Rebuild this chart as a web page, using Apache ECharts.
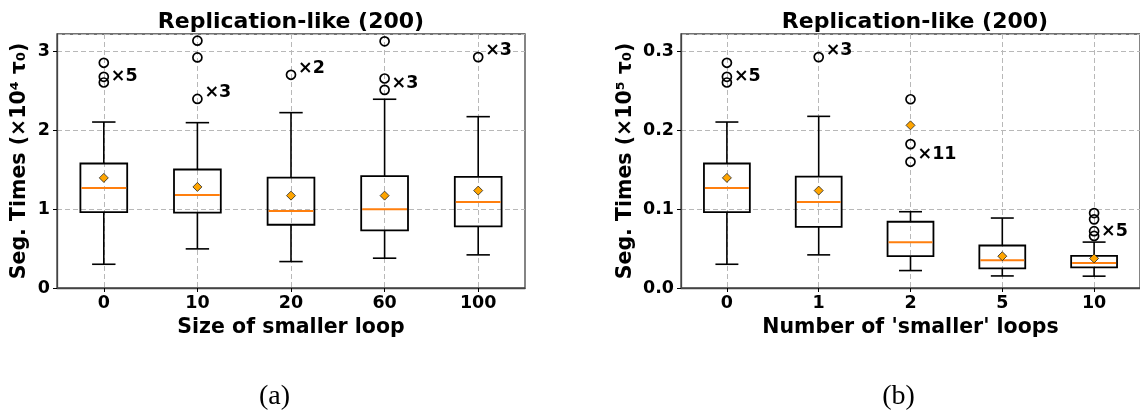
<!DOCTYPE html>
<html><head><meta charset="utf-8">
<script src="https://cdn.jsdelivr.net/npm/echarts@6/dist/echarts.min.js"></script>
<style>html,body{margin:0;padding:0;background:#fff}#c{width:1140px;height:411px}</style>
</head><body><div id="c"></div>
<script>
// ---------- data ----------
const titleText = 'Replication-like (200)';
const categoriesA = ['0', '10', '20', '60', '100'];
const categoriesB = ['0', '1', '2', '5', '10'];
const xNameA = 'Size of smaller loop';
const xNameB = "Number of 'smaller' loops";
const yNameA = 'Seg. Times (×10⁴ τ₀)';
const yNameB = 'Seg. Times (×10⁵ τ₀)';
const captionA = '(a)';
const captionB = '(b)';
// [lower whisker, Q1, median, Q3, upper whisker]
const boxA = [
  [0.301, 0.963, 1.269, 1.578, 2.104],
  [0.496, 0.955, 1.179, 1.502, 2.096],
  [0.335, 0.802, 0.976, 1.400, 2.223],
  [0.378, 0.730, 0.997, 1.417, 2.393],
  [0.420, 0.781, 1.090, 1.409, 2.172]
];
const meanA = [1.396, 1.281, 1.171, 1.171, 1.235];
const outliersA = [[0, 2.855], [0, 2.677], [0, 2.605], [1, 3.135], [1, 2.923], [1, 2.397],
  [2, 2.703], [3, 3.127], [3, 2.656], [3, 2.512], [4, 2.927]];
const countsA = [[0, 2.68, '×5'], [1, 2.478, '×3'], [2, 2.787, '×2'], [3, 2.597, '×3'], [4, 3.012, '×3']];
const boxB = [
  [0.0301, 0.0963, 0.1269, 0.1578, 0.2104],
  [0.0420, 0.0776, 0.1090, 0.1413, 0.2176],
  [0.0221, 0.0403, 0.0581, 0.0840, 0.0967],
  [0.0153, 0.0250, 0.0352, 0.0539, 0.0887],
  [0.0150, 0.0262, 0.0316, 0.0407, 0.0582]
];
const meanB = [0.1396, 0.1235, 0.2062, 0.0403, 0.0375];
const outliersB = [[0, 0.2855], [0, 0.2677], [0, 0.2605], [1, 0.2927], [2, 0.2393], [2, 0.1824], [2, 0.1600],
  [4, 0.095], [4, 0.087], [4, 0.072], [4, 0.066]];
const countsB = [[0, 0.268, '×5'], [1, 0.301, '×3'], [2, 0.169, '×11'], [4, 0.072, '×5']];
const yRangeA = [0, 3.22, 1];
const yRangeB = [0, 0.322, 0.1];

// ---------- styling ----------
const FONT = 'DejaVu Sans';
const frameColor = '#444';
const gridColor = '#b8b8b8';
const medianColor = '#ff7f0e';
const meanColor = '#ffa500';

function renderBox(params, api) {
  const i = api.value(0);
  const lo = api.coord([i, api.value(1)]);
  const q1 = api.coord([i, api.value(2)]);
  const med = api.coord([i, api.value(3)]);
  const q3 = api.coord([i, api.value(4)]);
  const hi = api.coord([i, api.value(5)]);
  const band = api.size([1, 0])[0];
  const bw = band * 0.5, cw = band * 0.25;
  const x = lo[0];
  const ls = { stroke: '#000', lineWidth: 1.6, fill: null };
  return {
    type: 'group',
    children: [
      { type: 'line', shape: { x1: x, y1: q1[1], x2: x, y2: lo[1] }, style: ls },
      { type: 'line', shape: { x1: x, y1: q3[1], x2: x, y2: hi[1] }, style: ls },
      { type: 'line', shape: { x1: x - cw / 2, y1: lo[1], x2: x + cw / 2, y2: lo[1] }, style: ls },
      { type: 'line', shape: { x1: x - cw / 2, y1: hi[1], x2: x + cw / 2, y2: hi[1] }, style: ls },
      { type: 'rect', shape: { x: x - bw / 2, y: q3[1], width: bw, height: q1[1] - q3[1] }, style: { stroke: '#000', lineWidth: 1.8, fill: 'none' } },
      { type: 'line', shape: { x1: x - bw / 2 + 1, y1: med[1], x2: x + bw / 2 - 1, y2: med[1] }, style: { stroke: medianColor, lineWidth: 2 } }
    ]
  };
}

function panelSeries(gi, boxes, means, outliers, counts) {
  return [
    {
      type: 'custom', xAxisIndex: gi, yAxisIndex: gi, renderItem: renderBox, silent: true, z: 3,
      encode: { x: 0, y: [1, 2, 3, 4, 5] },
      data: boxes.map((b, i) => [i].concat(b))
    },
    {
      type: 'scatter', xAxisIndex: gi, yAxisIndex: gi, silent: true, z: 4,
      symbol: 'circle', symbolSize: 9,
      itemStyle: { color: 'rgba(255,255,255,0)', borderColor: '#000', borderWidth: 1.7, opacity: 1 },
      data: outliers
    },
    {
      type: 'scatter', xAxisIndex: gi, yAxisIndex: gi, silent: true, z: 5,
      symbol: 'diamond', symbolSize: [9, 9],
      itemStyle: { color: meanColor, borderColor: '#222', borderWidth: 0.8, opacity: 1 },
      data: means.map((m, i) => [i, m])
    },
    {
      type: 'scatter', xAxisIndex: gi, yAxisIndex: gi, silent: true, z: 6,
      symbolSize: 1, itemStyle: { color: 'rgba(0,0,0,0)', opacity: 1 },
      label: {
        show: true, position: 'right', distance: 6.5,
        formatter: p => p.data[2],
        fontFamily: FONT, fontWeight: 'bold', fontSize: 17.5, color: '#000'
      },
      data: counts
    }
  ];
}

function xAxisDef(gi, cats, name) {
  return {
    type: 'category', gridIndex: gi, data: cats, boundaryGap: true,
    name: name, nameLocation: 'middle', nameGap: 27,
    nameTextStyle: { fontFamily: FONT, fontWeight: 'bold', fontSize: 20.5, color: '#000' },
    axisLine: { show: true, lineStyle: { color: frameColor, width: 1.3 } },
    axisTick: { show: true, alignWithLabel: true, length: 4, lineStyle: { color: '#000', width: 1 } },
    axisLabel: { margin: 6, fontFamily: FONT, fontWeight: 'bold', fontSize: 17.5, color: '#000' },
    splitLine: { show: true, alignWithLabel: true, lineStyle: { color: gridColor, type: [5, 3], width: 1 } }
  };
}

function yAxisDef(gi, range, name, nameGap, fmt) {
  return {
    type: 'value', gridIndex: gi, min: range[0], max: range[1], interval: range[2],
    name: name, nameLocation: 'middle', nameGap: nameGap,
    nameTextStyle: { fontFamily: FONT, fontWeight: 'bold', fontSize: 20.5, color: '#000' },
    axisLine: { show: true, lineStyle: { color: frameColor, width: 1.3 } },
    axisTick: { show: true, length: 4, lineStyle: { color: '#000', width: 1 } },
    axisLabel: { margin: 7, fontFamily: FONT, fontWeight: 'bold', fontSize: 17.5, color: '#000', formatter: fmt, showMaxLabel: false },
    splitLine: { show: true, lineStyle: { color: gridColor, type: [5, 3], width: 1 } }
  };
}

const fmtA = v => Math.abs(v - Math.round(v)) < 1e-6 ? String(Math.round(v)) : '';
const fmtB = v => Math.abs(v * 10 - Math.round(v * 10)) < 1e-6 ? (Math.round(v * 10) / 10).toFixed(1) : '';

const chart = echarts.init(document.getElementById('c'), null, { renderer: 'canvas' });
chart.setOption({
  animation: false,
  backgroundColor: '#fff',
  grid: [
    { left: 57, top: 34, width: 468, height: 254, show: true, borderColor: frameColor, borderWidth: 1.3, containLabel: false },
    { left: 681, top: 34, width: 468, height: 254, show: true, borderColor: frameColor, borderWidth: 1.3, containLabel: false }
  ],
  xAxis: [xAxisDef(0, categoriesA, xNameA), xAxisDef(1, categoriesB, xNameB)],
  yAxis: [yAxisDef(0, yRangeA, yNameA, 27, fmtA), yAxisDef(1, yRangeB, yNameB, 45, fmtB)],
  graphic: [
    { type: 'text', x: 291, y: 22, style: { text: titleText, align: 'center', verticalAlign: 'middle', textAlign: 'center', textVerticalAlign: 'middle', font: 'bold 22px "DejaVu Sans"', fill: '#000' } },
    { type: 'text', x: 915, y: 22, style: { text: titleText, align: 'center', verticalAlign: 'middle', textAlign: 'center', textVerticalAlign: 'middle', font: 'bold 22px "DejaVu Sans"', fill: '#000' } },
    { type: 'text', x: 274.5, y: 397, style: { text: captionA, align: 'center', verticalAlign: 'middle', textAlign: 'center', textVerticalAlign: 'middle', font: '28px "Liberation Serif"', fill: '#000' } },
    { type: 'text', x: 898.5, y: 397, style: { text: captionB, align: 'center', verticalAlign: 'middle', textAlign: 'center', textVerticalAlign: 'middle', font: '28px "Liberation Serif"', fill: '#000' } }
  ],
  series: [].concat(
    panelSeries(0, boxA, meanA, outliersA, countsA),
    panelSeries(1, boxB, meanB, outliersB, countsB)
  )
});
</script>
</body></html>
